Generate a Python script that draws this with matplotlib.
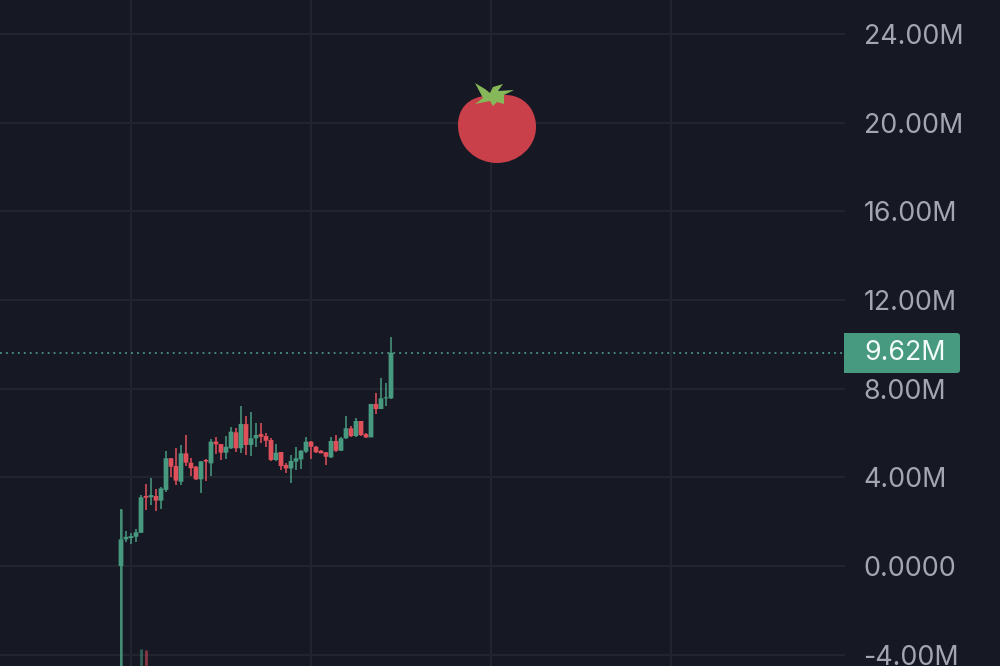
#!/usr/bin/env python3
import matplotlib as mpl
mpl.use('Agg')
import matplotlib.pyplot as plt
from matplotlib.patches import PathPatch, Polygon, FancyBboxPatch, Rectangle
from matplotlib.path import Path
import numpy as np

# candles, in millions
opens = [0.00, 1.20, 1.26, 1.32, 1.50, 3.16, 3.10, 3.16, 2.95, 3.43, 4.86, 4.51, 3.80, 5.08, 4.66,
         4.48, 3.91, 4.78, 4.63, 5.61, 5.50, 5.11, 5.31, 6.03, 5.31, 6.40, 5.46, 5.76, 5.95, 5.86,
         5.68, 4.78, 5.14, 4.56, 4.40, 4.71, 4.81, 5.16, 5.61, 5.38, 5.20, 5.13, 4.90, 5.64, 5.20,
         5.76, 6.21, 5.86, 6.54, 5.95, 5.80, 7.31, 7.08, 7.56, 7.56]
highs = [2.56, 1.59, 1.47, 1.65, 3.20, 3.70, 3.95, 3.46, 3.55, 5.19, 4.86, 5.31, 5.44, 5.91, 4.86,
         4.51, 4.72, 4.81, 5.73, 5.83, 5.50, 5.86, 6.26, 6.21, 7.22, 6.77, 6.93, 6.43, 6.43, 5.98,
         5.76, 5.49, 5.14, 4.63, 5.01, 5.35, 5.23, 5.80, 5.64, 5.41, 5.23, 5.16, 5.83, 5.89, 5.80,
         6.77, 6.32, 6.66, 6.54, 6.01, 7.31, 7.79, 8.46, 8.24, 10.31]
lows = [-5.20, 1.10, 0.98, 1.10, 1.47, 2.53, 2.75, 2.50, 2.59, 3.35, 4.00, 3.65, 3.65, 4.51, 4.06,
        3.88, 3.28, 3.85, 4.06, 5.05, 4.78, 4.81, 5.26, 5.16, 5.11, 5.01, 4.96, 5.35, 5.53, 5.35,
        4.75, 4.75, 4.33, 4.21, 3.76, 4.33, 4.39, 5.11, 4.81, 5.11, 5.08, 4.57, 4.86, 5.16, 5.17,
        5.71, 5.83, 5.83, 5.86, 5.77, 5.80, 6.86, 7.07, 7.22, 7.55]
closes = [1.20, 1.32, 1.35, 1.52, 3.10, 3.08, 3.20, 2.95, 3.50, 4.86, 4.48, 3.85, 5.08, 4.66, 4.41,
          3.91, 4.72, 4.71, 5.61, 5.49, 5.11, 5.38, 6.06, 5.31, 6.41, 5.46, 5.76, 5.91, 5.83, 5.65,
          4.78, 5.11, 4.51, 4.40, 4.74, 4.86, 5.20, 5.61, 5.38, 5.13, 5.08, 4.93, 5.64, 5.20, 5.76,
          6.21, 5.86, 6.54, 5.91, 5.80, 7.31, 7.08, 7.56, 7.61, 9.62]

# the two stray wicks at the bottom edge
stray_idx = [4, 5]
stray_top = [-3.75, -3.78]
stray_bottom = [-5.0, -5.0]
stray_up = [True, False]

last_price = 9.62
last_label = '9.62M'
y_ticks = [-4, 0, 4, 8, 12, 16, 20, 24]
y_labels = ['-4.00M', '0.0000', '4.00M', '8.00M', '12.00M', '16.00M', '20.00M', '24.00M']
x_grid = [1.9, 37.9, 73.9, 109.9]

BG = '#161823'
GRID = '#23262f'
UP = '#47997f'
DOWN = '#e0505b'
TICK = '#a3a5b0'

plt.rcParams['font.family'] = ['Inter', 'DejaVu Sans']

fig = plt.figure(figsize=(10, 6.66), dpi=100, facecolor=BG)
ax = fig.add_axes([0, 0, 0.845, 1], facecolor=BG)
ax.set_xlim(-24.2, 144.8)
ax.set_ylim(-4.51, 25.53)

for s in ax.spines.values():
    s.set_visible(False)

ax.set_xticks(x_grid)
ax.set_yticks(y_ticks)
ax.set_yticklabels(y_labels)
ax.yaxis.tick_right()
ax.tick_params(axis='x', length=0, labelbottom=False)
ax.tick_params(axis='y', length=0, pad=13.4, labelsize=19.3, labelcolor=TICK)
ax.grid(color=GRID, linewidth=1.4)
ax.set_axisbelow(True)

idx = np.arange(len(opens))
opens = np.array(opens)
closes = np.array(closes)
colors = [UP if c >= o else DOWN for o, c in zip(opens, closes)]

ax.vlines(idx, lows, highs, colors=colors, linewidth=1.4, alpha=0.8, zorder=3)
ax.vlines(idx[0], lows[0], highs[0], colors=UP, linewidth=2.0, alpha=0.65, zorder=3)
bars = ax.bar(idx, np.abs(closes - opens), bottom=np.minimum(opens, closes),
              width=0.95, color=colors, zorder=4)
for b in bars:
    b.set_snap(False)
ax.vlines(stray_idx, stray_bottom, stray_top,
          colors=[UP if u else DOWN for u in stray_up], linewidth=2.0, alpha=0.55, zorder=3)

ax.axhline(last_price, color='#55a892', linewidth=1.1, linestyle=(0, (1.2, 2.7)), zorder=2)

# overlay in pixels for the tomato and the price tag
ov = fig.add_axes([0, 0, 1, 1], facecolor='none')
ov.set_xlim(0, 1000)
ov.set_ylim(666, 0)
ov.axis('off')

verts = [(497, 96), (518, 91), (536, 105), (536, 127), (536, 148), (517, 163), (497, 163),
         (477, 163), (458, 148), (458, 125), (458, 104), (475, 93), (497, 96)]
codes = [Path.MOVETO] + [Path.CURVE4] * 12
ov.add_patch(PathPatch(Path(verts, codes), facecolor='#c9404a', edgecolor='none', zorder=5))

leaf = [(475, 83), (485, 89), (490, 93), (493, 87), (503, 84), (498, 91), (514, 90), (504, 95),
        (504, 104), (497, 102), (493, 106), (490, 101), (475, 104), (483, 98)]
ov.add_patch(Polygon(leaf, closed=True, facecolor='#86b85a', edgecolor='none', zorder=6))

ov.add_patch(FancyBboxPatch((844, 333), 116, 40, boxstyle='round,pad=0,rounding_size=3',
                            facecolor=UP, edgecolor='none', zorder=5))
ov.add_patch(Rectangle((844, 333), 12, 40, facecolor=UP, edgecolor='none', zorder=5))
ov.text(864, 353, last_label, color='#f2fbf7', fontsize=19.3, va='center', ha='left', zorder=6)

plt.savefig('out.png', dpi=100, facecolor=BG)
